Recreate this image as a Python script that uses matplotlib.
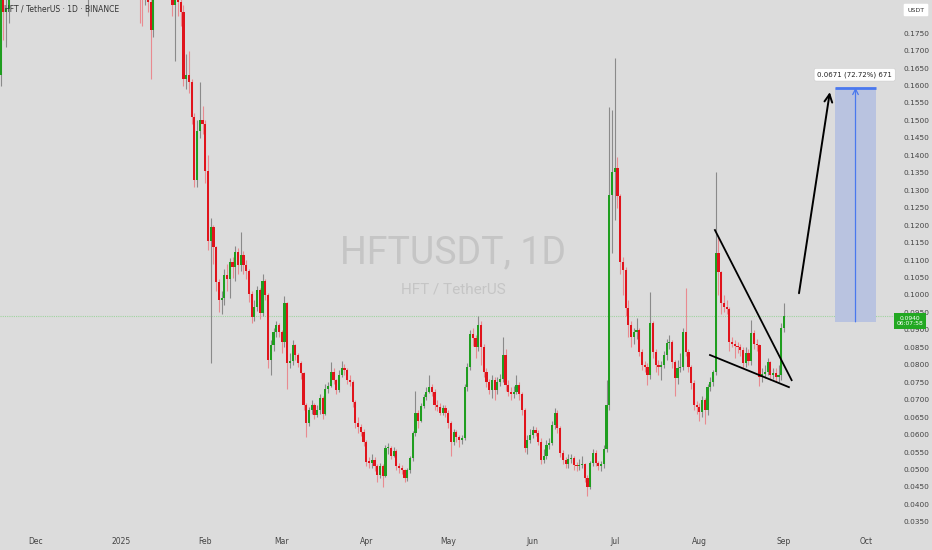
import matplotlib
matplotlib.use("Agg")
import matplotlib.pyplot as plt
from matplotlib.patches import Rectangle
import numpy as np

# ---------------- data (daily candles, first day = 2024-11-18) ----------------
first_open = 0.163
closes = [
    0.192, 0.181, 0.182, 0.205, 0.214, 0.226, 0.219, 0.231, 0.244, 0.238,
    0.252, 0.261, 0.248, 0.256, 0.266, 0.251, 0.243, 0.249, 0.236, 0.241,
    0.229, 0.218, 0.212, 0.221, 0.226, 0.219, 0.224, 0.231, 0.227, 0.218,
    0.209, 0.201, 0.207, 0.213, 0.206, 0.214, 0.219, 0.211, 0.205, 0.209,
    0.202, 0.198, 0.203, 0.199, 0.206, 0.214, 0.221, 0.217, 0.224, 0.212,
    0.198, 0.190, 0.187, 0.192, 0.184, 0.176, 0.192, 0.198, 0.204, 0.196,
    0.191, 0.194, 0.189, 0.183, 0.187, 0.184, 0.181, 0.162, 0.163, 0.161,
    0.151, 0.133, 0.147, 0.150, 0.149, 0.1355, 0.1154, 0.1194, 0.1137, 0.1037,
    0.0985, 0.0990, 0.1057, 0.1045, 0.1094, 0.1080, 0.1123, 0.1085, 0.1115, 0.1085,
    0.1068, 0.1003, 0.0937, 0.0965, 0.1014, 0.0948, 0.1040, 0.1000, 0.0813, 0.0856,
    0.0893, 0.0914, 0.0893, 0.0864, 0.0977, 0.0805, 0.0810, 0.0856, 0.0828, 0.0805,
    0.0776, 0.0685, 0.0633, 0.0670, 0.0685, 0.0655, 0.0670, 0.0706, 0.0660, 0.0731,
    0.0740, 0.0779, 0.0756, 0.0728, 0.0770, 0.0790, 0.0785, 0.0756, 0.0750, 0.0693,
    0.0634, 0.0622, 0.0607, 0.0579, 0.0521, 0.0520, 0.0527, 0.0510, 0.0484, 0.0510,
    0.0480, 0.0561, 0.0561, 0.0540, 0.0552, 0.0510, 0.0505, 0.0498, 0.0475, 0.0498,
    0.0532, 0.0604, 0.0663, 0.0640, 0.0682, 0.0707, 0.0722, 0.0736, 0.0722, 0.0685,
    0.0680, 0.0663, 0.0677, 0.0663, 0.0634, 0.0579, 0.0607, 0.0593, 0.0585, 0.0590,
    0.0736, 0.0793, 0.0888, 0.0876, 0.0850, 0.0914, 0.0851, 0.0779, 0.0750, 0.0728,
    0.0756, 0.0728, 0.0750, 0.0760, 0.0828, 0.0742, 0.0722, 0.0715, 0.0722, 0.0742,
    0.0715, 0.0670, 0.0562, 0.0584, 0.0600, 0.0613, 0.0605, 0.0579, 0.0527, 0.0540,
    0.0570, 0.0575, 0.0627, 0.0663, 0.0620, 0.0547, 0.0527, 0.0515, 0.0530, 0.0533,
    0.0513, 0.0510, 0.0512, 0.0515, 0.0477, 0.0450, 0.0518, 0.0547, 0.0518, 0.0510,
    0.0515, 0.0559, 0.0685, 0.1286, 0.1351, 0.1365, 0.1283, 0.1094, 0.1071, 0.0962,
    0.0914, 0.0880, 0.0894, 0.0899, 0.0836, 0.0799, 0.0795, 0.0770, 0.0920, 0.0836,
    0.0799, 0.0793, 0.0799, 0.0828, 0.0862, 0.0865, 0.0808, 0.0762, 0.0790, 0.0795,
    0.0894, 0.0836, 0.0793, 0.0747, 0.0685, 0.0680, 0.0665, 0.0699, 0.0670, 0.0736,
    0.0750, 0.0779, 0.1120, 0.1065, 0.0977, 0.0965, 0.0960, 0.0865, 0.0860, 0.0855,
    0.0850, 0.0842, 0.0805, 0.0835, 0.0810, 0.0891, 0.0860, 0.0856, 0.0765, 0.0775,
    0.0780, 0.0808, 0.0770, 0.0776, 0.0765, 0.0770, 0.0905, 0.0940,
]
highs = [
    0.198, 0.194, 0.186, 0.212, 0.222, 0.235, 0.232, 0.240, 0.252, 0.250,
    0.262, 0.272, 0.266, 0.263, 0.278, 0.270, 0.257, 0.256, 0.252, 0.248,
    0.245, 0.234, 0.224, 0.227, 0.233, 0.230, 0.229, 0.238, 0.236, 0.230,
    0.222, 0.213, 0.211, 0.219, 0.216, 0.220, 0.225, 0.222, 0.214, 0.215,
    0.212, 0.206, 0.208, 0.206, 0.210, 0.219, 0.228, 0.226, 0.231, 0.227,
    0.214, 0.200, 0.194, 0.197, 0.196, 0.186, 0.198, 0.205, 0.212, 0.207,
    0.200, 0.199, 0.197, 0.191, 0.190, 0.190, 0.187, 0.183, 0.169, 0.170,
    0.162, 0.152, 0.150, 0.161, 0.154, 0.150, 0.140, 0.122, 0.1200, 0.1140,
    0.1045, 0.1010, 0.1075, 0.1090, 0.1105, 0.1110, 0.1140, 0.1135, 0.1180, 0.1125,
    0.1100, 0.1075, 0.1010, 0.0985, 0.1025, 0.1020, 0.1060, 0.1045, 0.1005, 0.0870,
    0.0905, 0.0925, 0.0920, 0.0900, 0.0998, 0.0980, 0.0835, 0.0872, 0.0860, 0.0835,
    0.0810, 0.0780, 0.0690, 0.0680, 0.0700, 0.0690, 0.0685, 0.0715, 0.0710, 0.0745,
    0.0750, 0.0807, 0.0790, 0.0760, 0.0785, 0.0812, 0.0803, 0.0790, 0.0770, 0.0755,
    0.0700, 0.0650, 0.0630, 0.0615, 0.0585, 0.0535, 0.0545, 0.0535, 0.0515, 0.0520,
    0.0515, 0.0570, 0.0575, 0.0568, 0.0565, 0.0558, 0.0520, 0.0512, 0.0502, 0.0505,
    0.0540, 0.0610, 0.0725, 0.0670, 0.0690, 0.0715, 0.0735, 0.0770, 0.0745, 0.0730,
    0.0700, 0.0690, 0.0685, 0.0685, 0.0670, 0.0640, 0.0615, 0.0612, 0.0600, 0.0598,
    0.0745, 0.0805, 0.0900, 0.0905, 0.0885, 0.0940, 0.0925, 0.0860, 0.0790, 0.0760,
    0.0770, 0.0765, 0.0765, 0.0775, 0.0880, 0.0845, 0.0755, 0.0735, 0.0740, 0.0770,
    0.0750, 0.0722, 0.0675, 0.0600, 0.0615, 0.0625, 0.0622, 0.0612, 0.0590, 0.0560,
    0.0585, 0.0590, 0.0640, 0.0675, 0.0670, 0.0625, 0.0555, 0.0535, 0.0545, 0.0545,
    0.0540, 0.0522, 0.0530, 0.0540, 0.0520, 0.0485, 0.0525, 0.0560, 0.0555, 0.0525,
    0.0525, 0.0570, 0.0755, 0.1538, 0.1530, 0.1678, 0.1395, 0.1290, 0.1110, 0.1080,
    0.0985, 0.0925, 0.0905, 0.0935, 0.0905, 0.0845, 0.0810, 0.0805, 0.1008, 0.0925,
    0.0845, 0.0815, 0.0810, 0.0840, 0.0875, 0.0885, 0.0870, 0.0815, 0.0815, 0.0835,
    0.0905, 0.1020, 0.0845, 0.0800, 0.0755, 0.0695, 0.0690, 0.0710, 0.0705, 0.0745,
    0.0765, 0.0785, 0.1352, 0.1166, 0.1070, 0.1000, 0.0985, 0.0965, 0.0880, 0.0870,
    0.0865, 0.0860, 0.0850, 0.0850, 0.0845, 0.0928, 0.0900, 0.0875, 0.0860, 0.0790,
    0.0800, 0.0820, 0.0810, 0.0790, 0.0790, 0.0800, 0.0920, 0.0977,
]
lows = [
    0.160, 0.173, 0.171, 0.178, 0.200, 0.208, 0.212, 0.214, 0.226, 0.230,
    0.235, 0.247, 0.240, 0.242, 0.250, 0.244, 0.232, 0.236, 0.228, 0.230,
    0.221, 0.205, 0.198, 0.207, 0.215, 0.213, 0.214, 0.219, 0.221, 0.212,
    0.201, 0.192, 0.180, 0.200, 0.199, 0.203, 0.209, 0.204, 0.197, 0.200,
    0.195, 0.190, 0.193, 0.191, 0.196, 0.203, 0.210, 0.209, 0.212, 0.202,
    0.190, 0.178, 0.177, 0.183, 0.181, 0.162, 0.174, 0.188, 0.193, 0.190,
    0.186, 0.187, 0.185, 0.180, 0.167, 0.180, 0.177, 0.160, 0.159, 0.158,
    0.149, 0.131, 0.131, 0.145, 0.146, 0.132, 0.113, 0.0805, 0.109, 0.101,
    0.0950, 0.0945, 0.0970, 0.1010, 0.0990, 0.1050, 0.1040, 0.1060, 0.1070, 0.1060,
    0.1045, 0.0980, 0.0920, 0.0925, 0.0955, 0.0930, 0.0940, 0.0985, 0.0790, 0.0770,
    0.0840, 0.0880, 0.0880, 0.0835, 0.0850, 0.0730, 0.0790, 0.0800, 0.0815, 0.0795,
    0.0760, 0.0670, 0.0593, 0.0625, 0.0660, 0.0645, 0.0650, 0.0660, 0.0645, 0.0655,
    0.0720, 0.0735, 0.0745, 0.0715, 0.0722, 0.0765, 0.0772, 0.0745, 0.0740, 0.0680,
    0.0620, 0.0605, 0.0595, 0.0568, 0.0510, 0.0505, 0.0505, 0.0495, 0.0465, 0.0475,
    0.0450, 0.0478, 0.0545, 0.0530, 0.0535, 0.0500, 0.0490, 0.0488, 0.0465, 0.0468,
    0.0490, 0.0525, 0.0595, 0.0620, 0.0635, 0.0675, 0.0700, 0.0718, 0.0710, 0.0670,
    0.0668, 0.0655, 0.0655, 0.0650, 0.0620, 0.0540, 0.0570, 0.0580, 0.0565, 0.0572,
    0.0585, 0.0725, 0.0785, 0.0855, 0.0820, 0.0840, 0.0800, 0.0765, 0.0735, 0.0715,
    0.0705, 0.0700, 0.0715, 0.0740, 0.0750, 0.0725, 0.0710, 0.0700, 0.0705, 0.0715,
    0.0700, 0.0655, 0.0550, 0.0545, 0.0575, 0.0590, 0.0595, 0.0570, 0.0515, 0.0520,
    0.0530, 0.0560, 0.0570, 0.0615, 0.0605, 0.0535, 0.0515, 0.0505, 0.0505, 0.0520,
    0.0500, 0.0495, 0.0500, 0.0505, 0.0465, 0.0425, 0.0445, 0.0510, 0.0510, 0.0500,
    0.0495, 0.0505, 0.0550, 0.0670, 0.1120, 0.1215, 0.1250, 0.1060, 0.1000, 0.0940,
    0.0880, 0.0850, 0.0860, 0.0875, 0.0825, 0.0785, 0.0780, 0.0742, 0.0760, 0.0820,
    0.0780, 0.0770, 0.0756, 0.0790, 0.0815, 0.0845, 0.0790, 0.0710, 0.0745, 0.0780,
    0.0785, 0.0825, 0.0780, 0.0730, 0.0670, 0.0660, 0.0640, 0.0650, 0.0630, 0.0655,
    0.0725, 0.0740, 0.0770, 0.1000, 0.0945, 0.0950, 0.0945, 0.0840, 0.0850, 0.0820,
    0.0835, 0.0825, 0.0790, 0.0795, 0.0800, 0.0800, 0.0845, 0.0840, 0.0740, 0.0750,
    0.0762, 0.0770, 0.0755, 0.0760, 0.0750, 0.0750, 0.0755, 0.0895,
]

# x-axis: day index of month starts and their labels
month_days = [13, 44, 75, 103, 134, 164, 195, 225, 256, 287, 317]
month_labels = ["Dec", "2025", "Feb", "Mar", "Apr", "May", "Jun", "Jul", "Aug", "Sep", "Oct"]

# price axis
price_ticks = [round(0.035 + 0.005 * k, 4) for k in range(29)]
last_price = 0.0940
countdown = "06:07:58"

# drawings (day index, price)
wedge_upper = ([261.7, 289.8], [0.1186, 0.0756])
wedge_lower = ([259.9, 288.8], [0.0828, 0.0736])
arrow_pts = ([292.5, 303.8], [0.1005, 0.1581])
target_x = [305.7, 320.7]
target_y = [0.0923, 0.1594]
target_text = "0.0671 (72.72%) 671"

# ---------------- drawing ----------------
BG = "#dcdcdc"
UP = "#1f9e1f"
DN = "#e0141c"
UPW = "#8a8a8a"
DNW = "#e98a90"
W, H = 932, 550
SMALL = ["Liberation Sans Narrow", "DejaVu Sans"]

fig = plt.figure(figsize=(W / 100, H / 100), dpi=100, facecolor=BG)
ax = fig.add_axes([0, (H - 532) / H, 897 / W, 532 / H], facecolor=BG)

c = np.array(closes)
o = np.concatenate([[first_open], c[:-1]])
hi = np.maximum(np.array(highs), np.maximum(o, c))
lo = np.minimum(np.array(lows), np.minimum(o, c))
idx = np.arange(len(c))
up = c >= o

ax.vlines(idx[up], lo[up], hi[up], colors=UPW, lw=0.8, zorder=2)
ax.vlines(idx[~up], lo[~up], hi[~up], colors=DNW, lw=0.8, zorder=2)
body_b = np.minimum(o, c)
body_h = np.maximum(np.abs(c - o), 0.0004)
ax.bar(idx[up], body_h[up], bottom=body_b[up], width=0.8, color=UP, lw=0, zorder=3)
ax.bar(idx[~up], body_h[~up], bottom=body_b[~up], width=0.8, color=DN, lw=0, zorder=3)

ax.set_xlim(-0.19, 328.4)
ax.set_ylim(0.0321, 0.1845)

# watermark
ax.text(0.505, 0.525, "HFTUSDT, 1D", transform=ax.transAxes, ha="center", va="center",
        fontsize=27, color="#c5c5c5", family="Roboto", zorder=1)
ax.text(0.505, 0.455, "HFT / TetherUS", transform=ax.transAxes, ha="center", va="center",
        fontsize=11, color="#c5c5c5", family="Roboto", zorder=1)

# last price line
ax.axhline(last_price, color="#9fd49f", lw=0.8, ls=(0, (1, 1)), zorder=1)

# wedge lines
ax.plot(*wedge_upper, color="black", lw=1.3, zorder=5)
ax.plot(*wedge_lower, color="black", lw=1.3, zorder=5)
ax.annotate("", xy=(arrow_pts[0][1], arrow_pts[1][1]), xytext=(arrow_pts[0][0], arrow_pts[1][0]),
            arrowprops=dict(arrowstyle="->", color="black", lw=1.4, mutation_scale=14,
                            shrinkA=0, shrinkB=0), zorder=5)

# target box
ax.add_patch(Rectangle((target_x[0], target_y[0]), target_x[1] - target_x[0],
                       target_y[1] - target_y[0], facecolor="#b9c3e0", edgecolor="none", zorder=4))
ax.plot(target_x, [target_y[1], target_y[1]], color="#4a78ee", lw=2, zorder=5,
        solid_capstyle="butt")
xm = (target_x[0] + target_x[1]) / 2
ax.annotate("", xy=(xm, target_y[1]), xytext=(xm, target_y[0]),
            arrowprops=dict(arrowstyle="->", color="#4a78ee", lw=0.9, mutation_scale=10,
                            shrinkA=0, shrinkB=0), zorder=5)
ax.text(xm - 0.3, target_y[1] + 0.0037, target_text, ha="center", va="center", fontsize=5,
        color="#222222", family=SMALL, zorder=6,
        bbox=dict(boxstyle="round,pad=0.45,rounding_size=0.3", fc="white", ec="#cccccc", lw=0.4))

# axes styling
for s in ax.spines.values():
    s.set_visible(False)
ax.set_xticks(month_days)
ax.set_xticklabels(month_labels)
ax.tick_params(axis="x", length=0, pad=3.5, labelsize=5.5, labelcolor="#444444")
ax.yaxis.tick_right()
ax.set_yticks(price_ticks)
ax.set_yticklabels([f"{p:.4f}" for p in price_ticks])
ax.tick_params(axis="y", length=0, pad=5, labelsize=5.3, labelcolor="#444444")
for lab in ax.get_xticklabels() + ax.get_yticklabels():
    lab.set_family(SMALL)

# header
fig.text(4 / W, 1 - 9 / H, "HFT / TetherUS · 1D · BINANCE", fontsize=5.5, color="#333333",
         ha="left", va="center", family=SMALL)
# USDT box
fig.text(916 / W, 1 - 10 / H, "USDT", fontsize=4.5, color="#333333", ha="center", va="center",
         family=SMALL,
         bbox=dict(boxstyle="round,pad=0.6,rounding_size=0.2", fc="white", ec="none"))
# last price label
yfrac = ax.transData.transform((0, last_price))[1] / fig.bbox.height
fig.text(910 / W, yfrac - 5 / H, f"{last_price:.4f}\n{countdown}", fontsize=4.3, color="white",
         ha="center", va="center", linespacing=1.1, family=SMALL,
         bbox=dict(boxstyle="square,pad=0.45", fc="#22a822", ec="none"), zorder=10)

fig.savefig("out.png", dpi=100, facecolor=BG)
